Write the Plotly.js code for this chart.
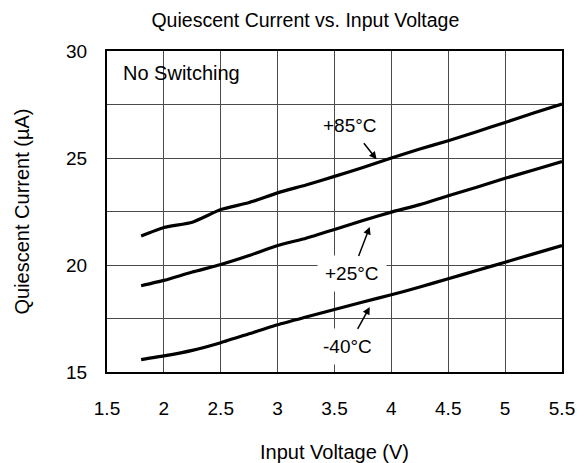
<!DOCTYPE html>
<html><head><meta charset="utf-8">
<script src="https://cdn.plot.ly/plotly-3.0.1.min.js"></script>
<style>html,body{margin:0;padding:0;background:#fff}</style>
</head><body>
<div id="chart" style="width:586px;height:463px"></div>
<script>
const voltage = [1.8, 2.0, 2.25, 2.5, 2.75, 3.0, 3.25, 3.5, 3.75, 4.0, 4.25, 4.5, 4.75, 5.0, 5.25, 5.5];
const current85 = [21.35, 21.75, 22.0, 22.59, 22.92, 23.37, 23.74, 24.14, 24.56, 25.0, 25.42, 25.81, 26.23, 26.66, 27.1, 27.52];
const current25 = [19.03, 19.28, 19.67, 20.02, 20.44, 20.91, 21.25, 21.66, 22.08, 22.47, 22.82, 23.24, 23.63, 24.05, 24.44, 24.83];
const currentM40 = [15.58, 15.75, 16.01, 16.37, 16.79, 17.21, 17.57, 17.92, 18.27, 18.61, 18.97, 19.36, 19.74, 20.13, 20.52, 20.91];
const xTicks = [1.5, 2, 2.5, 3, 3.5, 4, 4.5, 5, 5.5];
const xTickText = ["1.5", "2", "2.5", "3", "3.5", "4", "4.5", "5", "5.5"];
const yTicks = [15, 17.5, 20, 22.5, 25, 27.5, 30];
const yTickText = ["15", "", "20", "", "25", "", "30"];
const labels = [
  {text: "+85°C", x: 3.87, y: 24.94, ax: -27, ay: -34, bg: "rgba(0,0,0,0)"},
  {text: "+25°C", x: 3.81, y: 21.78, ax: -18, ay: 47, bg: "#ffffff"},
  {text: "-40°C", x: 3.81, y: 18.04, ax: -22, ay: 40, bg: "#ffffff"}
];

const font = "Arial, 'Liberation Sans', sans-serif";
const lineStyle = {color: "#000", width: 3.2, shape: "spline", smoothing: 0.5};
const traces = [current85, current25, currentM40].map(ys => ({
  x: voltage, y: ys, type: "scatter", mode: "lines", line: lineStyle, hoverinfo: "skip"
}));

const annotations = labels.map(l => ({
  x: l.x, y: l.y, xref: "x", yref: "y", text: l.text, showarrow: true,
  ax: l.ax, ay: l.ay, arrowhead: 2, arrowsize: 1, arrowwidth: 1.5, arrowcolor: "#000",
  standoff: 0, bgcolor: l.bg, borderpad: 7, font: {family: font, size: 19, color: "#000"}
}));
annotations.push({
  x: 0.03, y: 0.93, xref: "paper", yref: "paper", xanchor: "left", yanchor: "middle",
  text: "No Switching", showarrow: false, font: {family: font, size: 20, color: "#000"}
});

const layout = {
  width: 586, height: 463,
  margin: {l: 107, r: 24, t: 51, b: 91},
  paper_bgcolor: "#fff", plot_bgcolor: "#fff",
  showlegend: false,
  font: {family: font, size: 19, color: "#000"},
  title: {text: "Quiescent Current vs. Input Voltage", font: {family: font, size: 19.5, color: "#000"},
    xref: "paper", x: 0.436, xanchor: "center", yref: "container", y: 0.957, yanchor: "middle"},
  xaxis: {range: [1.5, 5.5], tickvals: xTicks, ticktext: xTickText, showgrid: true,
    gridcolor: "#4a4a4a", gridwidth: 1, showline: true, mirror: true, linecolor: "#000", linewidth: 2,
    ticks: "", ticklabelstandoff: 18, zeroline: false,
    title: {text: "Input Voltage (V)", font: {family: font, size: 20}, standoff: 27}},
  yaxis: {range: [15, 30], tickvals: yTicks, ticktext: yTickText, showgrid: true,
    gridcolor: "#4a4a4a", gridwidth: 1, showline: true, mirror: true, linecolor: "#000", linewidth: 2,
    ticks: "", ticklabelstandoff: 14, zeroline: false,
    title: {text: "Quiescent Current (µA)", font: {family: font, size: 20}, standoff: 31}},
  annotations: annotations
};

Plotly.newPlot("chart", traces, layout, {staticPlot: true, displayModeBar: false});
</script>
</body></html>
